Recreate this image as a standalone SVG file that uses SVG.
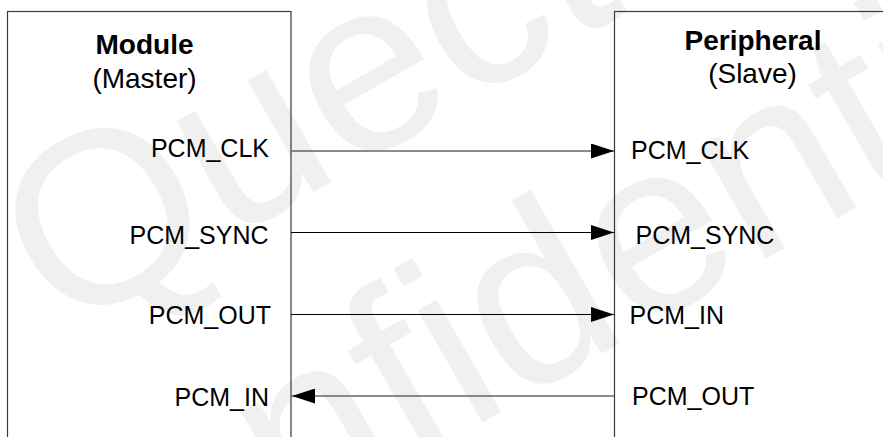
<svg xmlns="http://www.w3.org/2000/svg" width="883" height="437" viewBox="0 0 883 437">
<defs>
<style>
.box{fill:none;stroke:#3a3a3a;stroke-width:1.2}
.title{font-family:"Liberation Sans",Arial,sans-serif;font-size:28px;font-weight:bold;fill:#000;text-anchor:middle}
.sub{font-family:"Liberation Sans",Arial,sans-serif;font-size:28px;fill:#000;text-anchor:middle}
.sig{font-family:"Liberation Sans",Arial,sans-serif;font-size:25px;fill:#000}
.end{text-anchor:end}
.wire{stroke:#000;stroke-width:1.1;fill:none;marker-end:url(#ah)}
.wire.g{stroke:#666;stroke-width:1.6}
.wm{font-family:"Liberation Sans",Arial,sans-serif;font-size:245px;fill:#f0f0f0;text-anchor:middle}
</style>
<marker id="ah" markerUnits="userSpaceOnUse" markerWidth="23" markerHeight="15" refX="23" refY="7.5" orient="auto">
<path d="M0,0 L23,7.5 L0,15 z" fill="#000"/>
</marker>
</defs>
<rect width="883" height="437" fill="#fff"/>
<g id="watermark" transform="translate(428,126) rotate(-30)">
<text class="wm" x="0" y="0">Quectel</text>
<text class="wm" x="12" y="284">Confidential</text>
</g>
<g id="module">
<rect class="box" x="7.5" y="11.5" width="283.5" height="450"/>
<text class="title" x="144.5" y="53.5">Module</text>
<text class="sub" x="144.5" y="88">(Master)</text>
<text class="sig end" x="269" y="157">PCM_CLK</text>
<text class="sig end" x="268.5" y="243.5">PCM_SYNC</text>
<text class="sig end" x="271" y="323.5">PCM_OUT</text>
<text class="sig end" x="269" y="405.5">PCM_IN</text>
</g>
<g id="peripheral">
<rect class="box" x="614.5" y="11.5" width="300" height="450"/>
<text class="title" x="753" y="50">Peripheral</text>
<text class="sub" x="752.5" y="83">(Slave)</text>
<text class="sig" x="631" y="159">PCM_CLK</text>
<text class="sig" x="635.5" y="244">PCM_SYNC</text>
<text class="sig" x="629.5" y="323.5">PCM_IN</text>
<text class="sig" x="632" y="404.5">PCM_OUT</text>
</g>
<g id="connectors">
<line class="wire g" x1="291" y1="151" x2="614" y2="151"/>
<line class="wire" x1="291" y1="232.5" x2="614" y2="232.5"/>
<line class="wire" x1="291" y1="314.5" x2="614" y2="314.5"/>
<line class="wire g" x1="614" y1="396" x2="292" y2="396"/>
</g>
</svg>
